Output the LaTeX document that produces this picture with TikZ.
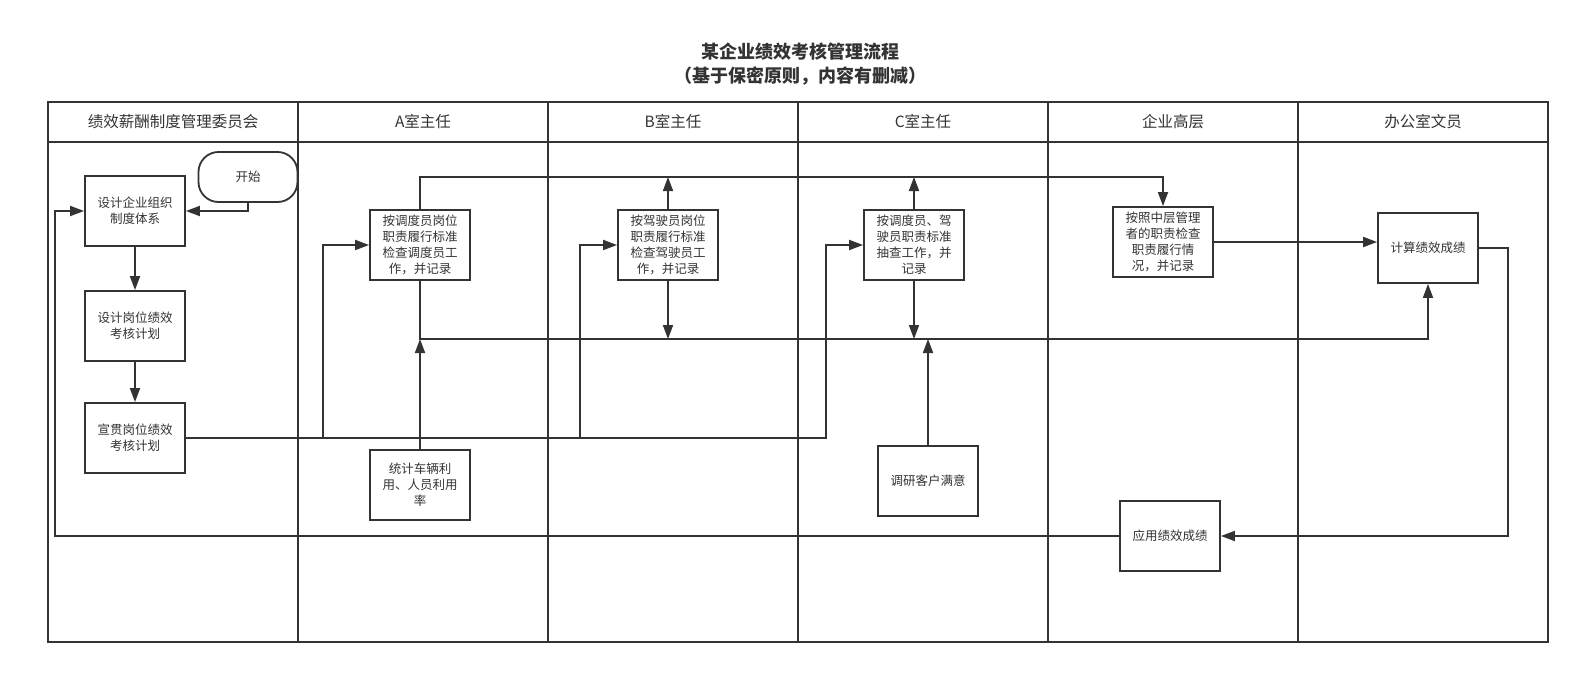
\documentclass[tikz,border=0pt]{standalone}
\usepackage{fontspec}
\setmainfont{Noto Sans CJK SC}
\usetikzlibrary{arrows.meta}
\definecolor{ink}{HTML}{333333}
\begin{document}
\begin{tikzpicture}[x=1pt,y=-1pt,
  line width=1.8pt, draw=ink, text=ink,
  box/.style={draw=ink, line width=1.8pt, minimum width=100pt, minimum height=70pt, inner sep=2pt,
    align=center, font=\fontsize{12.5}{16}\selectfont},
  term/.style={box, minimum width=99pt, minimum height=50pt, rounded corners=20pt},
  lane/.style={font=\fontsize{15.5}{18}\selectfont},
  arr/.style={-{Triangle[length=14pt,width=10pt]}},
  conn/.style={draw=ink, line width=1.8pt}]
\useasboundingbox (0,0) rectangle (1580,674);

% title
\node[font=\bfseries\fontsize{18}{22}\selectfont] (t1) at (800,52) {某企业绩效考核管理流程};
\node[font=\bfseries\fontsize{18}{22}\selectfont] (t2) at (800,76) {（基于保密原则，内容有删减）};

% table
\draw[conn] (48,102) rectangle (1548,642);
\draw[conn] (48,142) -- (1548,142);
\foreach \x in {298,548,798,1048,1298} \draw[conn] (\x,102) -- (\x,642);

\node[lane] (h1) at (173,122) {绩效薪酬制度管理委员会};
\node[lane] (h2) at (423,122) {A室主任};
\node[lane] (h3) at (673,122) {B室主任};
\node[lane] (h4) at (923,122) {C室主任};
\node[lane] (h5) at (1173,122) {企业高层};
\node[lane] (h6) at (1423,122) {办公室文员};

% nodes
\node[term] (start) at (248,177) {开始};
\node[box] (d1) at (135,211) {设计企业组织\\制度体系};
\node[box] (d2) at (135,326) {设计岗位绩效\\考核计划};
\node[box] (d3) at (135,438) {宣贯岗位绩效\\考核计划};
\node[box] (a1) at (420,245) {按调度员岗位\\职责履行标准\\检查调度员工\\作，并记录};
\node[box] (a2) at (420,485) {统计车辆利\\用、人员利用\\率};
\node[box] (b1) at (668,245) {按驾驶员岗位\\职责履行标准\\检查驾驶员工\\作，并记录};
\node[box] (c1) at (914,245) {按调度员、驾\\驶员职责标准\\抽查工作，并\\记录};
\node[box] (c2) at (928,481) {调研客户满意};
\node[box] (e1) at (1163,242) {按照中层管理\\者的职责检查\\职责履行情\\况，并记录};
\node[box] (f1) at (1428,248) {计算绩效成绩};
\node[box] (e2) at (1170,536) {应用绩效成绩};

% helper coordinates
\coordinate (top) at (0,177);
\coordinate (mid) at (0,339);
\coordinate (jA) at (323,438);
\coordinate (jB) at (580,438);
\coordinate (jC) at (826,438);
\coordinate (rt) at (1508,536);
\coordinate (lb) at (55,536);

% connectors
\draw[conn,arr] (start.south) |- (d1.east);
\draw[conn,arr] (d1) -- (d2);
\draw[conn,arr] (d2) -- (d3);
\draw[conn,arr] (d3.east) -- (jC) |- (c1.west);
\draw[conn,arr] (jA) |- (a1.west);
\draw[conn,arr] (jB) |- (b1.west);

\draw[conn,arr] (a1.north) -- (a1.north |- top) -| (e1.north);
\draw[conn,arr] (b1.north) -- (b1.north |- top);
\draw[conn,arr] (c1.north) -- (c1.north |- top);

\draw[conn,arr] (a1.south) -- (a1.south |- mid) -| (f1.south);
\draw[conn,arr] (b1.south) -- (b1.south |- mid);
\draw[conn,arr] (c1.south) -- (c1.south |- mid);
\draw[conn,arr] (a2.north) -- (a2.north |- mid);
\draw[conn,arr] (c2.north) -- (c2.north |- mid);

\draw[conn,arr] (e1.east) -- (e1.east -| f1.west);
\draw[conn,arr] (f1.east) -| (rt) -- (e2.east);
\draw[conn,arr] (e2.west) -- (lb) |- (d1.west);
\end{tikzpicture}
\end{document}
